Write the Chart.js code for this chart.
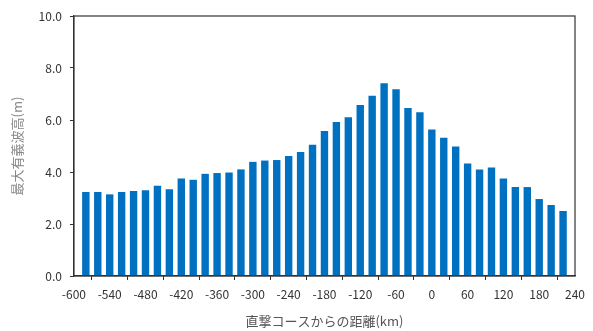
<!DOCTYPE html>
<html>
<head>
<meta charset="utf-8">
<script src="https://cdn.jsdelivr.net/npm/chart.js@4.4.1/dist/chart.umd.min.js"></script>
<style>
  html, body { margin: 0; padding: 0; background: #fff; }
  #wrap { width: 593px; height: 331px; }
</style>
</head>
<body>
<div id="wrap"><canvas id="waveChart"></canvas></div>
<script>
    // 直撃コースからの距離 (km)
    const distances = [
        -580, -560, -540, -520, -500, -480, -460, -440, -420, -400,
        -380, -360, -340, -320, -300, -280, -260, -240, -220, -200,
        -180, -160, -140, -120, -100, -80, -60, -40, -20, 0,
        20, 40, 60, 80, 100, 120, 140, 160, 180, 200, 220
    ];
    // 最大有義波高 (m)
    const waveHeights = [
        3.23, 3.23, 3.14, 3.23, 3.27, 3.30, 3.47, 3.34, 3.75, 3.70,
        3.93, 3.96, 3.98, 4.10, 4.39, 4.44, 4.46, 4.62, 4.77, 5.05,
        5.58, 5.92, 6.11, 6.58, 6.93, 7.41, 7.18, 6.46, 6.30, 5.63,
        5.32, 4.98, 4.33, 4.10, 4.17, 3.75, 3.42, 3.42, 2.96, 2.73, 2.50
    ];
    const xTicks = [-600, -540, -480, -420, -360, -300, -240, -180, -120, -60, 0, 60, 120, 180, 240];
    const yTicks = [0, 2, 4, 6, 8, 10];

    const textFont = '"Noto Sans CJK JP", "Noto Sans", sans-serif';

    // 枠線 (上・右)
    const frame = {
        id: 'frame',
        afterDraw(chart) {
            const a = chart.chartArea, ctx = chart.ctx;
            ctx.save();
            ctx.strokeStyle = '#333';
            ctx.lineWidth = 1.2;
            ctx.strokeRect(a.left, a.top, a.right - a.left, a.bottom - a.top);
            ctx.restore();
        }
    };

    const ctx = document.getElementById('waveChart').getContext('2d');
    new Chart(ctx, {
        type: 'bar',
        data: {
            datasets: [{
                data: distances.map((d, i) => ({ x: d, y: waveHeights[i] })),
                backgroundColor: '#0070C0',
                borderWidth: 0,
                barPercentage: 0.62,
                categoryPercentage: 1.0
            }]
        },
        options: {
            responsive: true,
            maintainAspectRatio: false,
            animation: false,
            layout: { padding: { left: 9, right: 18, top: 16, bottom: 2 } },
            plugins: {
                legend: { display: false },
                tooltip: { enabled: false }
            },
            scales: {
                x: {
                    type: 'linear',
                    min: -600, max: 240,
                    offset: false,
                    afterBuildTicks: (s) => { s.ticks = xTicks.map(v => ({ value: v })); },
                    ticks: { color: '#333', font: { family: textFont, size: 12 }, maxRotation: 0, padding: 7 },
                    grid: { display: true, drawOnChartArea: false, drawTicks: true, tickLength: 4, color: '#333' },
                    border: { display: true, color: '#333', width: 1.2 },
                    title: { display: true, text: '直撃コースからの距離(km)', color: '#555', font: { family: textFont, size: 13 }, padding: { top: 5, bottom: 0 } }
                },
                y: {
                    min: 0, max: 10,
                    afterBuildTicks: (s) => { s.ticks = yTicks.map(v => ({ value: v })); },
                    ticks: { color: '#333', font: { family: textFont, size: 12 }, padding: 8, callback: (v) => v.toFixed(1) },
                    grid: { display: true, drawOnChartArea: false, drawTicks: true, tickLength: 4, color: '#333' },
                    border: { display: true, color: '#333', width: 1.2 },
                    title: { display: true, text: '最大有義波高(m)', color: '#888', font: { family: textFont, size: 13 }, padding: { top: 0, bottom: 6 } }
                }
            }
        },
        plugins: [frame]
    });
</script>
</body>
</html>
